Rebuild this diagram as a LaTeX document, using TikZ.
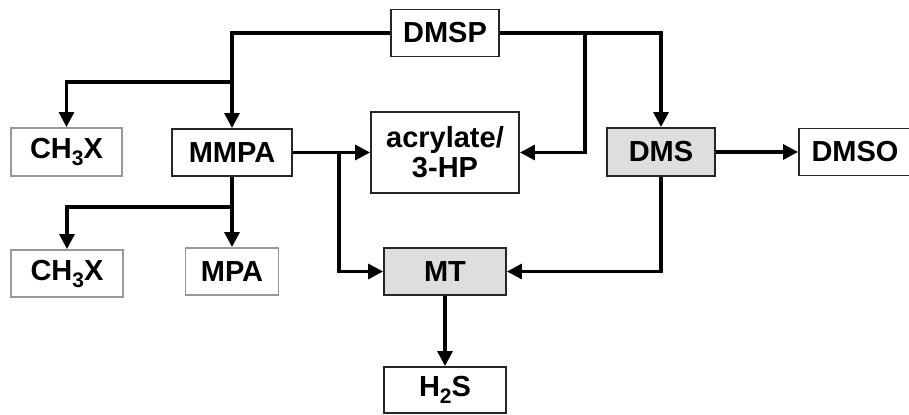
\documentclass[tikz,border=0pt]{standalone}
\usepackage{fontspec}
\setmainfont{Liberation Sans}
\usetikzlibrary{arrows.meta}
\newcommand{\subsc}[1]{\raisebox{-3.5pt}{\fontsize{10.5}{10.5}\selectfont #1}}
\begin{document}
\begin{tikzpicture}[x=0.5pt, y=-0.5pt, >={Triangle[length=7.5pt,width=7.5pt]},
	font=\fontsize{14.5}{15}\selectfont\bfseries,
	box/.style={draw=black!85, line width=0.95pt, inner sep=0pt, minimum height=23.5pt, align=center},
	pale/.style={box, draw=black!40},
	shade/.style={box, fill=black!13},
	flow/.style={->, line width=1.6pt}]
	\useasboundingbox (0,0) rectangle (909,415);
	\path 
	(232,82) coordinate (J1)
	(585,32) coordinate (J2)
	(339,153) coordinate (J3)
	(232,207) coordinate (J4)
	;
	\node[box, minimum width=54pt] (dmsp) at (445,33) {DMSP};
	\node[pale, minimum width=55.5pt, minimum height=24pt] (chx) at (66.5,152) {CH\subsc{3}X};
	\node[box, minimum width=60pt] (mmpa) at (232,152.5) {MMPA};
	\node[box, minimum width=74pt, minimum height=40.5pt] (acr) at (445,152.5) {acrylate/\\3-HP};
	\node[shade, minimum width=54pt, minimum height=24pt] (dms) at (661,152) {DMS};
	\node[box, minimum width=56pt] (dmso) at (855,152) {DMSO};
	\node[pale, minimum width=56pt] (chy) at (67,273.5) {CH\subsc{3}X};
	\node[pale, minimum width=46.5pt] (mpa) at (232,271.5) {MPA};
	\node[shade, minimum width=61pt] (mt) at (445,271.5) {MT};
	\node[box, minimum width=61pt, minimum height=23pt] (hs) at (445,390) {H\subsc{2}S};
	% branches
	\draw[flow] (dmsp.west) -| (mmpa.north);
	\draw[flow] (J1) -| (chx.north);
	\draw[flow] (dmsp.east) -| (dms.north);
	\draw[flow] (J2) |- (acr.east);
	\draw[flow] (J3) |- (mt.west);
	\draw[flow] (J4) -| (chy.north);
	\draw[flow] (dms.south) |- (mt.east);
	\foreach \a/\b in {mmpa.east/acr.west, dms.east/dmso.west, mmpa.south/mpa.north, mt.south/hs.north}{
	\draw[flow] (\a)--(\b);
}
\end{tikzpicture}
\end{document}
